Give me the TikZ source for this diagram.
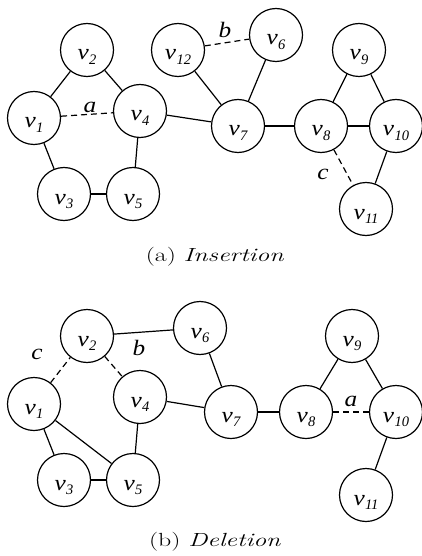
\documentclass[tikz,border=0pt]{standalone}
\usepackage{fontspec}
\usepackage{graphicx}
\newfontfamily\tnr{Liberation Serif}
\newcommand{\vsym}{\scalebox{1.15}[1]{\fontsize{22}{22}\selectfont\tnr\itshape v}}
\newcommand{\vl}[1]{\vsym\kern0.3pt\raisebox{-4.5pt}{\fontsize{14.5}{14.5}\selectfont\tnr\itshape #1}}
\newcommand{\el}[1]{\scalebox{1.15}[1]{\fontsize{22}{22}\selectfont\tnr\itshape #1}}
\newcommand{\captxt}[1]{\scalebox{1.36}[1]{\fontsize{19}{19}\selectfont #1}}
\begin{document}
\begin{tikzpicture}[x=1pt,y=-1pt,
  vtx/.style={circle,draw,line width=1.2pt,minimum size=53pt,inner sep=0pt,text height=20pt,text depth=0pt},
  edge/.style={line width=1.2pt},
  heavy/.style={line width=2.6pt},
  dashedge/.style={line width=1.2pt,dash pattern=on 6pt off 4pt},
  elab/.style={inner sep=0pt},
  captext/.style={inner sep=0pt}]
\useasboundingbox (0,0) rectangle (422,556);
% ---------- (a) Insertion ----------
\node[vtx] (a1) at (34,118) {\vl{1}};
\node[vtx] (a2) at (87,50) {\vl{2}};
\node[vtx] (a3) at (64,194) {\vl{3}};
\node[vtx] (a4) at (140,111) {\vl{4}};
\node[vtx] (a5) at (133,194) {\vl{5}};
\node[vtx] (a6) at (276,35) {\vl{6}};
\node[vtx] (a7) at (238,126) {\vl{7}};
\node[vtx] (a8) at (321,126) {\vl{8}};
\node[vtx] (a9) at (359,50) {\vl{9}};
\node[vtx] (a10) at (396,126) {\vl{10}};
\node[vtx] (a11) at (366,209) {\vl{11}};
\node[vtx] (a12) at (178,50) {\vl{12}};
\draw[edge] (a1) -- (a2);
\draw[edge] (a2) -- (a4);
\draw[dashedge] (a1) -- (a4);
\draw[edge] (a1) -- (a3);
\draw[heavy] (a3) -- (a5);
\draw[edge] (a4) -- (a5);
\draw[edge] (a4) -- (a7);
\draw[dashedge] (a12) -- (a6);
\draw[edge] (a12) -- (a7);
\draw[edge] (a6) -- (a7);
\draw[heavy] (a7) -- (a8);
\draw[heavy] (a8) -- (a10);
\draw[edge] (a8) -- (a9);
\draw[edge] (a9) -- (a10);
\draw[dashedge] (a8) -- (a11);
\draw[edge] (a10) -- (a11);
\node[elab] (la) at (90,107) {\el{a}};
\node[elab] (lb) at (225,30) {\el{b}};
\node[elab] (lc) at (323,174) {\el{c}};
\node[captext] (capa) at (215,257) {\captxt{(a) \textit{Insertion}}};
% ---------- (b) Deletion ----------
\node[vtx] (b1) at (34,404) {\vl{1}};
\node[vtx] (b2) at (87,336) {\vl{2}};
\node[vtx] (b3) at (64,480) {\vl{3}};
\node[vtx] (b4) at (140,397) {\vl{4}};
\node[vtx] (b5) at (133,480) {\vl{5}};
\node[vtx] (b6) at (200,328) {\vl{6}};
\node[vtx] (b7) at (231,412) {\vl{7}};
\node[vtx] (b8) at (306,412) {\vl{8}};
\node[vtx] (b9) at (352,336) {\vl{9}};
\node[vtx] (b10) at (396,412) {\vl{10}};
\node[vtx] (b11) at (366,495) {\vl{11}};
\draw[dashedge] (b1) -- (b2);
\draw[dashedge] (b2) -- (b4);
\draw[edge] (b2) -- (b6);
\draw[edge] (b1) -- (b3);
\draw[edge] (b1) -- (b5);
\draw[heavy] (b3) -- (b5);
\draw[edge] (b4) -- (b5);
\draw[edge] (b4) -- (b7);
\draw[edge] (b6) -- (b7);
\draw[heavy] (b7) -- (b8);
\draw[dashedge] (b8) -- (b10);
\draw[edge] (b8) -- (b9);
\draw[edge] (b9) -- (b10);
\draw[edge] (b10) -- (b11);
\node[elab] (mc) at (37,354) {\el{c}};
\node[elab] (mb) at (139,348) {\el{b}};
\node[elab] (ma) at (351,401) {\el{a}};
\node[captext] (capb) at (215,542) {\captxt{(b) \textit{Deletion}}};
\end{tikzpicture}
\end{document}
